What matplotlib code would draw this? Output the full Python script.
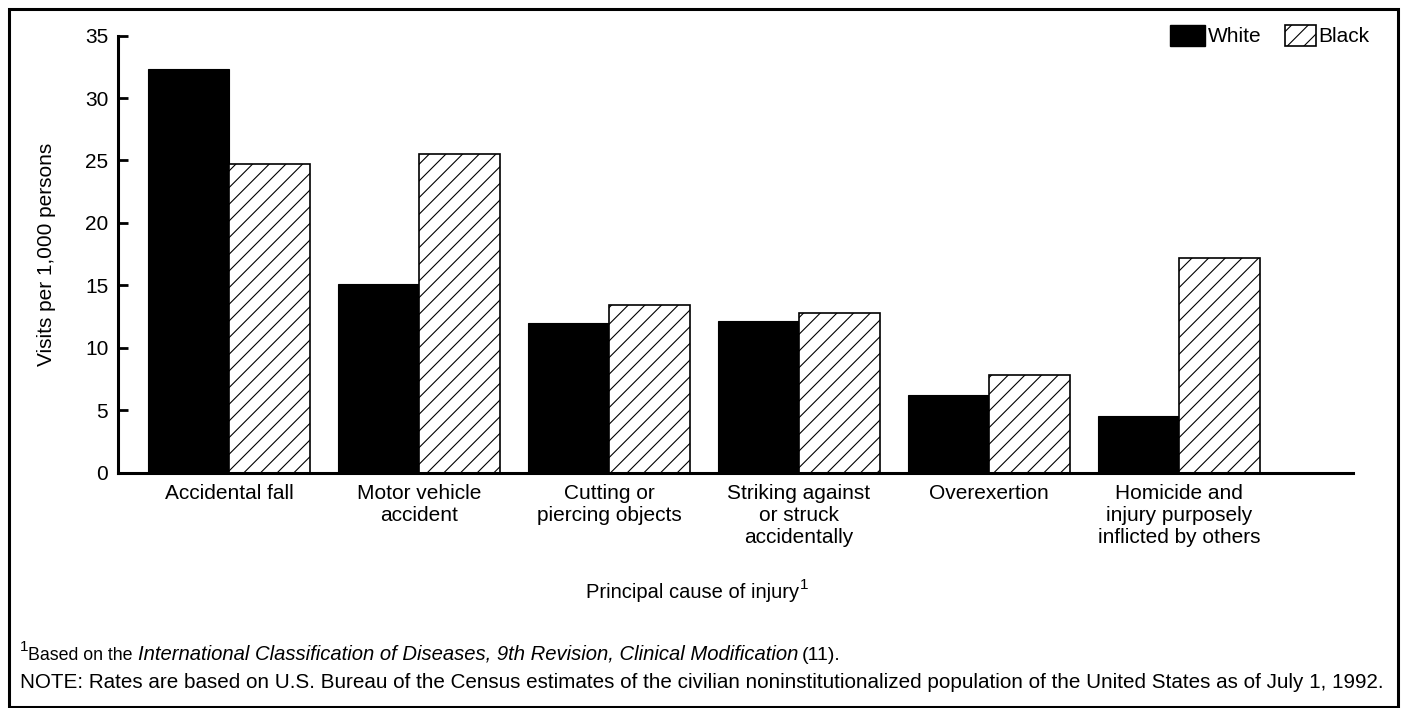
import matplotlib
matplotlib.use("Agg")
import matplotlib.pyplot as plt
from matplotlib.patches import Rectangle
import numpy as np

categories = ["Accidental fall", "Motor vehicle\naccident", "Cutting or\npiercing objects",
              "Striking against\nor struck\naccidentally", "Overexertion",
              "Homicide and\ninjury purposely\ninflicted by others"]
white = [32.3, 15.1, 12.0, 12.1, 6.2, 4.5]
black = [24.7, 25.5, 13.4, 12.8, 7.8, 17.2]
yticks = [0, 5, 10, 15, 20, 25, 30, 35]

plt.rcParams['font.family'] = ['Liberation Sans', 'DejaVu Sans']
plt.rcParams['hatch.linewidth'] = 0.8

W, H = 1401, 708
fig = plt.figure(figsize=(W / 100, H / 100), dpi=100)

def fx(px):
    return px / W

def fy(py):
    return 1 - py / H

ax = fig.add_axes([fx(118), fy(472.5), fx(1353) - fx(118), fy(35.7) - fy(472.5)])

x = np.arange(len(categories))
w = 81 / 190
ax.bar(x - w / 2, white, width=w, color='black', edgecolor='black', linewidth=0.8)
ax.bar(x + w / 2, black, width=w, color='white', edgecolor='black', linewidth=1.2, hatch='//')

ax.set_xlim(-(229 - 118) / 190, (1353 - 229) / 190)
ax.set_ylim(0, 35)
ax.set_yticks(yticks)
ax.set_yticklabels([str(t) for t in yticks], fontsize=15)
ax.set_xticks(x)
ax.set_xticklabels(categories, fontsize=15, linespacing=1.2)
ax.tick_params(axis='x', length=0, pad=8)
ax.tick_params(axis='y', direction='in', length=7.5, width=2, pad=7)
for s in ['top', 'right']:
    ax.spines[s].set_visible(False)
for s in ['left', 'bottom']:
    ax.spines[s].set_linewidth(2.2)

ax.set_ylabel("Visits per 1,000 persons", fontsize=15, labelpad=21)

# x-axis title with superscript
t0 = fig.text(fx(693), fy(592), "Principal cause of injury", fontsize=14.5, ha='center', va='center')
fig.canvas.draw()
renderer = fig.canvas.get_renderer()

bb0 = t0.get_window_extent(renderer=renderer)
fig.text(bb0.x1 / W + 0.0005, bb0.y1 / H - 0.014, "1", fontsize=11, ha='left', va='bottom')

# footnote 1
base_y = fy(660)
fig.text(fx(20), base_y + 0.013, "1", fontsize=11, va='baseline', ha='left')
tb = fig.text(fx(28), base_y, "Based on the", fontsize=12.8, va='baseline', ha='left')
bbb = tb.get_window_extent(renderer=renderer)
ti = fig.text(max(fx(133), bbb.x1 / W + 0.004), base_y,
              "International Classification of Diseases, 9th Revision, Clinical Modification",
              fontsize=14.6, style='italic', va='baseline', ha='left')
bbi = ti.get_window_extent(renderer=renderer)
fig.text(bbi.x1 / W + 0.002, base_y, "(11).", fontsize=14, va='baseline', ha='left')

fig.text(fx(20), fy(688), "NOTE: Rates are based on U.S. Bureau of the Census estimates of the civilian "
         "noninstitutionalized population of the United States as of July 1, 1992.",
         fontsize=14.9, va='baseline', ha='left')

# legend
fig.add_artist(Rectangle((fx(1170), fy(46)), fx(35), fy(25) - fy(46), transform=fig.transFigure,
                         facecolor='black', edgecolor='black', linewidth=1))
fig.text(fx(1208), fy(36.5), "White", fontsize=15, va='center', ha='left')
fig.add_artist(Rectangle((fx(1285), fy(46)), fx(31), fy(25) - fy(46), transform=fig.transFigure,
                         facecolor='white', edgecolor='black', linewidth=1.2, hatch='//'))
fig.text(fx(1318), fy(36.5), "Black", fontsize=15, va='center', ha='left')

# outer frame
fig.add_artist(Rectangle((fx(9), fy(707)), fx(1398) - fx(9), fy(9) - fy(707), transform=fig.transFigure,
                         facecolor='none', edgecolor='black', linewidth=2.2))

fig.savefig("out.png", dpi=100)
